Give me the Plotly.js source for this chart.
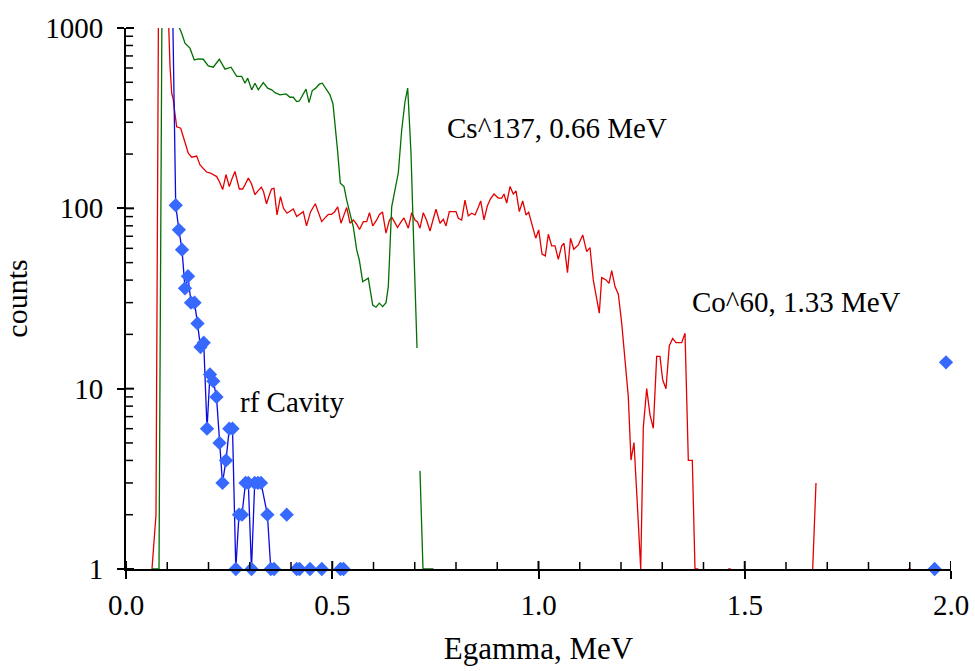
<!DOCTYPE html>
<html>
<head>
<meta charset="utf-8">
<script src="https://cdn.plot.ly/plotly-3.0.1.min.js"></script>
<style>html,body{margin:0;padding:0;background:#fff;}#chart{width:975px;height:671px;}</style>
</head>
<body>
<div id="chart"></div>
<script>
// ---- Data (Egamma in MeV, counts) ----
const csX = [0.063,0.0715,0.080,0.0885,0.097,0.1055,0.114,0.1244,0.135,0.143,0.155,0.1656,0.1753,0.1874,0.1995,0.2116,0.2262,0.240,0.2545,0.2684,0.2805,0.2885,0.295,0.3047,0.3127,0.3207,0.3328,0.3435,0.3532,0.3612,0.3733,0.3879,0.3976,0.4056,0.4138,0.4201,0.4298,0.4364,0.4436,0.4516,0.4599,0.4686,0.4759,0.4865,0.4945,0.5018,0.5079,0.5127,0.5195,0.5285,0.535,0.543,0.551,0.5593,0.5656,0.5738,0.5874,0.598,0.6061,0.6141,0.6223,0.6303,0.6359,0.6441,0.6521,0.6601,0.6684,0.6764,0.6829,0.6909,0.6982,0.7055,0.709,0.7127,0.72,0.7285,0.737,0.7455];
const csY = [1,1,1,5000,6000,4000,2000,1063,936,824,773,665,674,671,616,606,671,591,606,539,539,494,527,454,494,454,498,464,454,438,426,431,413,413,391,394,435,458,386,450,464,488,494,458,426,379,279,211,138,132,111,94,79,58.8,51.7,39.2,41,29.1,28.3,29.8,28.5,30,36.8,102,126,157,272,391,464,202,56.4,16.8,null,3.5,1,1,1,1];

const coX = [0.063,0.0727,0.080,0.0885,0.097,0.1025,0.1067,0.1108,0.1147,0.1164,0.1229,0.1326,0.1389,0.143,0.151,0.1593,0.1714,0.1794,0.1879,0.1952,0.2048,0.2133,0.2199,0.2267,0.2344,0.2424,0.2504,0.257,0.2642,0.2747,0.2829,0.2897,0.2965,0.3042,0.3127,0.32,0.328,0.3333,0.3406,0.3467,0.3527,0.3588,0.3661,0.3745,0.3818,0.3903,0.3976,0.4056,0.4138,0.4218,0.4298,0.4376,0.4473,0.4589,0.4667,0.4744,0.4824,0.4904,0.4982,0.5055,0.5132,0.5212,0.5285,0.535,0.543,0.551,0.5588,0.5661,0.5753,0.5835,0.5903,0.5981,0.6078,0.6145,0.6218,0.6303,0.6383,0.6441,0.6509,0.6582,0.6667,0.6739,0.6844,0.6926,0.7006,0.7067,0.7127,0.7207,0.7285,0.737,0.7442,0.7515,0.7612,0.7692,0.7758,0.7838,0.7927,0.80,0.8056,0.8138,0.8218,0.8298,0.8381,0.8461,0.8533,0.8599,0.8679,0.8759,0.8836,0.8921,0.9025,0.9108,0.9164,0.9229,0.9309,0.9389,0.9455,0.9535,0.9617,0.9697,0.9762,0.9842,0.9932,1.0005,1.0085,1.0165,1.0238,1.032,1.04,1.048,1.0562,1.0618,1.0703,1.0776,1.0856,1.0965,1.1072,1.1168,1.1248,1.1328,1.1406,1.1474,1.1532,1.1636,1.1709,1.1775,1.1855,1.1935,1.2017,1.2097,1.2177,1.2242,1.2315,1.2395,1.2478,1.2541,1.2623,1.2703,1.2783,1.2865,1.2945,1.301,1.3091,1.3171,1.3253,1.3333,1.3406,1.3471,1.3552,1.3632,1.3729,1.3794,1.3874,1.40,1.4594,1.4667,1.50,1.6647,1.6727,1.70,1.8958,1.903];
const coY = [1,2,5000,8000,3000,1063,611,435,399,367,283,278,249,230,202,192,195,174,165,159,157,153,150,140,127,154,132,146,160,128,128,137,147,137,119,125,131,124,106,117,128,129,91.9,116,100,94,96.8,99.3,90.2,92.5,95.9,79.9,95.5,106,95.5,84.4,88.5,92.5,92.7,95.5,102,82.7,92,101,82.7,86.2,81.9,76.4,84.4,84.4,94.6,79.9,86.2,92.5,95.5,72.8,85.5,89.3,84.1,78.3,84.1,88.5,77.6,94.6,86.2,84.1,77.6,94.6,86.2,74.9,86.2,98.9,82.7,87,79.9,95.9,95.9,95.9,88.1,86.2,111,90.8,94,91.9,100.5,110,86.2,103,113,120,114,114,120,107,132,120,125,95.9,110,91.9,95.1,80.9,68.3,75.9,55.8,54.5,71.8,61.9,61.9,52.2,61.9,64,44,68.3,59.3,62.7,71.2,57.5,60.5,40.1,32.3,26.2,41.3,40.1,38.4,45.1,36.8,33.4,23.1,15.1,9.03,4.02,5.02,2.31,1,6.1,10,7.15,6.03,15.1,15.1,11.2,10,17.3,19,18,18,18,20.3,4,4,1,1,null,1,1,null,1,3,null,1,1];

const rfX = [0.1091,0.1205,0.1282,0.1358,0.143,0.1503,0.1576,0.1661,0.1733,0.1806,0.1884,0.1964,0.2036,0.2116,0.2194,0.2267,0.2339,0.2424,0.2504,0.2582,0.2662,0.2739,0.2812,0.2897,0.2965,0.3042,0.312,0.3198,0.3273,0.3428,0.351,0.3588,0.37,0.3896,0.40,0.4138,0.4206,0.433,0.4461,0.46,0.4747,0.50,0.52,0.5273,1.0,1.9603,1.975,1.9879];
const rfY = [5000,104,76,59,36,42,30,30,23,17,18,6,12,11,9,5,3,4,6,6,1,2,2,3,3,1,3,3,3,2,1,1,null,2,null,1,1,null,1,null,1,null,1,1,null,1,null,14];

const xTickVals = [0, 0.5, 1.0, 1.5, 2.0];
const xMinorVals = [0.1,0.2,0.3,0.4,0.6,0.7,0.8,0.9,1.1,1.2,1.3,1.4,1.6,1.7,1.8,1.9];
const yTickVals = [1, 10, 100, 1000];
const yMinorVals = [2,3,4,5,6,7,8,9,20,30,40,50,60,70,80,90,200,300,400,500,600,700,800,900];

const labels = [
  {text: 'Cs^137, 0.66 MeV', x: 0.773, y: 279},
  {text: 'Co^60, 1.33 MeV', x: 1.367, y: 30.3},
  {text: 'rf Cavity', x: 0.2715, y: 8.44}
];

const FONT = 'Liberation Serif, Times New Roman, serif';
const FS = 29;

const traces = [
  {x: coX, y: coY, type: 'scatter', mode: 'lines', line: {color: 'rgb(228,0,0)', width: 1.3}, connectgaps: false, hoverinfo: 'skip'},
  {x: csX, y: csY, type: 'scatter', mode: 'lines', line: {color: 'rgb(0,112,0)', width: 1.3}, connectgaps: false, hoverinfo: 'skip'},
  {x: rfX, y: rfY, type: 'scatter', mode: 'lines', line: {color: 'rgb(10,10,225)', width: 1.3}, connectgaps: false, hoverinfo: 'skip'},
  {x: rfX, y: rfY, type: 'scatter', mode: 'markers', marker: {symbol: 'diamond', size: 11, color: 'rgb(55,105,255)'}, cliponaxis: false, hoverinfo: 'skip'}
];

// axis decorations: inside half of major ticks and inside minor ticks
const W = 825, H = 541;
const shapes = [];
xTickVals.forEach(v => shapes.push({type: 'line', xref: 'x', yref: 'paper', x0: v, x1: v, y0: 0, y1: 8 / H, line: {color: 'black', width: 2}}));
xMinorVals.forEach(v => shapes.push({type: 'line', xref: 'x', yref: 'paper', x0: v, x1: v, y0: 0, y1: 7 / H, line: {color: 'black', width: 1.5}}));
yTickVals.forEach(v => shapes.push({type: 'line', xref: 'paper', yref: 'paper', x0: 0, x1: 8 / W, y0: Math.log10(v) / 3, y1: Math.log10(v) / 3, line: {color: 'black', width: 2}}));
yMinorVals.forEach(v => shapes.push({type: 'line', xref: 'paper', yref: 'paper', x0: 0, x1: 7 / W, y0: Math.log10(v) / 3, y1: Math.log10(v) / 3, line: {color: 'black', width: 1.5}}));

const layout = {
  width: 975, height: 671,
  margin: {l: 126, r: 24, t: 28, b: 102},
  showlegend: false,
  font: {family: FONT, size: FS, color: 'black'},
  xaxis: {range: [0, 2], tickmode: 'linear', tick0: 0, dtick: 0.5, tickformat: '.1f',
    showline: true, linewidth: 2, linecolor: 'black', tickcolor: 'black',
    ticks: 'outside', ticklen: 8, tickwidth: 2, showgrid: false, zeroline: false, ticklabelstandoff: 1,
    title: {text: 'Egamma, MeV', font: {family: FONT, size: 31, color: 'black'}, standoff: 18}},
  yaxis: {type: 'log', range: [0, 3], tickmode: 'linear', tick0: 0, dtick: 1, exponentformat: 'none',
    showline: true, linewidth: 2, linecolor: 'black', tickcolor: 'black',
    ticks: 'outside', ticklen: 7, tickwidth: 2, showgrid: false, zeroline: false, ticklabelstandoff: 8,
    title: {text: 'counts', font: {family: FONT, size: 30, color: 'black'}, standoff: 12}},
  // overlaid tick-only axes for the inside tick marks
  xaxis2: {overlaying: 'x', anchor: 'y', side: 'bottom', range: [0, 2],
    tickmode: 'linear', tick0: 0, dtick: 0.1, ticks: 'inside', ticklen: 7, tickwidth: 1.5, tickcolor: 'black',
    showticklabels: false, showline: false, showgrid: false, zeroline: false},
  yaxis2: {overlaying: 'y', anchor: 'x', side: 'left', type: 'log', range: [0, 3],
    tickmode: 'array', tickvals: yTickVals.concat(yMinorVals), ticks: 'inside', ticklen: 7, tickwidth: 1.5, tickcolor: 'black',
    showticklabels: false, showline: false, showgrid: false, zeroline: false},
  shapes: shapes,
  annotations: labels.map(a => ({
    text: a.text, x: a.x, y: Math.log10(a.y), xref: 'x', yref: 'y',
    xanchor: 'left', yanchor: 'middle', showarrow: false,
    font: {family: FONT, size: FS, color: 'black'}
  }))
};

Plotly.newPlot('chart', traces, layout, {staticPlot: true, displayModeBar: false}).then(gd => {
  if (!document.querySelectorAll('.shapelayer path').length) {
    Plotly.relayout(gd, {shapes: shapes});
  }
});
</script>
</body>
</html>
